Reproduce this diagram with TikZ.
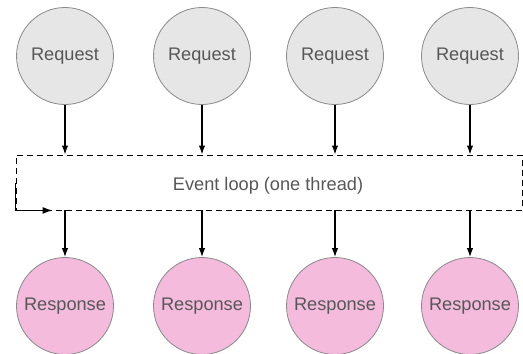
\documentclass[tikz,border=0pt]{standalone}
\usepackage{fontspec}
\setmainfont{Liberation Sans}
\usetikzlibrary{arrows.meta}
\definecolor{txtgrey}{HTML}{575757}
\definecolor{ringgrey}{HTML}{8A8A8A}
\definecolor{reqfill}{HTML}{E6E6E6}
\definecolor{resfill}{HTML}{F4BBDD}
\begin{document}
\begin{tikzpicture}[x=1pt,y=-1pt,
  font=\fontsize{18.2}{21}\selectfont,
  ball/.style={circle, draw=ringgrey, line width=0.8pt, minimum size=97pt,
    inner sep=0pt, text=txtgrey},
  req/.style={ball, fill=reqfill},
  res/.style={ball, fill=resfill},
  arr/.style={line width=1.4pt, -{Latex[length=9pt,width=6.5pt]}},
  loopbox/.style={draw, dashed, dash pattern=on 6pt off 4pt, line width=0.9pt,
    minimum width=506pt, minimum height=55pt, inner sep=0pt, text=txtgrey}]
\useasboundingbox (0,0) rectangle (523,354);
% incoming requests
\node[req] (q1) at (65,56) {Request};
\node[req] (q2) at (202,56) {Request};
\node[req] (q3) at (335,56) {Request};
\node[req] (q4) at (470,56) {Request};
% the single-threaded event loop
\node[loopbox] (loop) at (269,182.5) {};
\node[text=txtgrey] (lbl) at (268,186) {Event loop (one thread)};
% outgoing responses
\node[res] (r1) at (65,306) {Response};
\node[res] (r2) at (202,306) {Response};
\node[res] (r3) at (335,306) {Response};
\node[res] (r4) at (470,306) {Response};
% arrows into and out of the loop
\foreach \i in {1,...,4} {
  \draw[arr] (q\i.south) -- (q\i.south |- loop.north);
  \draw[arr] (r\i.north |- loop.south) -- (r\i.north);
}
% the loop returning on itself
\coordinate (back) at ([xshift=37pt]loop.south west);
\draw[line width=1.2pt, -{Latex[length=10pt,width=7pt]}] (loop.west) |- (back);
\end{tikzpicture}
\end{document}
